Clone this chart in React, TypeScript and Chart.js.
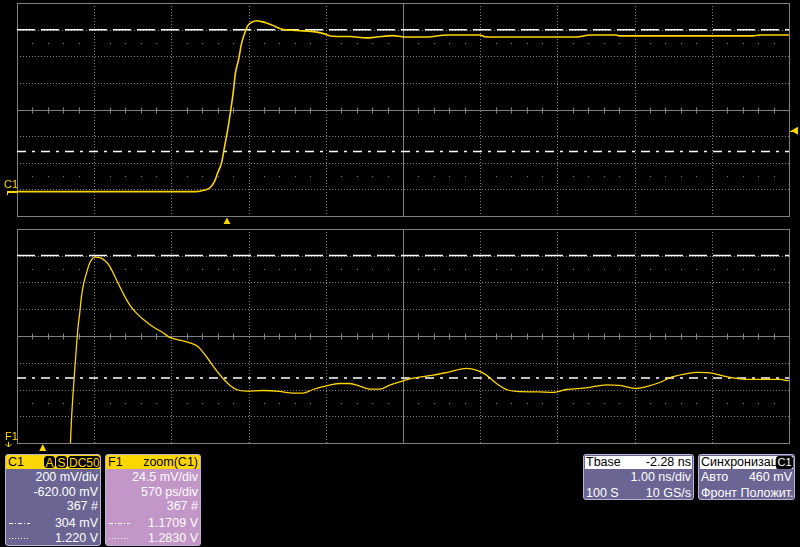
import React, { useEffect, useRef } from "react";
import { Chart, registerables } from "chart.js";

Chart.register(...registerables);

// ---- Data (time in ns, voltage in V) ----
const topTimeNs = [-2.72, -0.4, -0.29, -0.22, -0.16, -0.12, -0.07, -0.03, 0.01, 0.05, 0.08, 0.11, 0.15, 0.19, 0.23, 0.27, 0.32, 0.38, 0.45, 0.51, 0.6, 0.7, 0.9, 1.09, 1.24, 1.37, 1.59, 1.81, 1.94, 2.15, 2.3, 2.58, 2.86, 3.27, 3.36, 4.53, 4.7, 5.04, 5.09, 6.81, 6.9, 7.28];
const topVolts = [0.003, 0.003, 0.015, 0.032, 0.082, 0.145, 0.22, 0.345, 0.47, 0.62, 0.745, 0.895, 0.995, 1.12, 1.195, 1.25, 1.275, 1.287, 1.28, 1.27, 1.25, 1.225, 1.213, 1.207, 1.192, 1.17, 1.168, 1.158, 1.165, 1.175, 1.165, 1.165, 1.18, 1.18, 1.165, 1.165, 1.18, 1.18, 1.173, 1.173, 1.18, 1.18];

const zoomTimeNs = [0.196, 0.212, 0.224, 0.236, 0.249, 0.261, 0.273, 0.286, 0.303, 0.323, 0.347, 0.384, 0.421, 0.458, 0.495, 0.544, 0.593, 0.642, 0.692, 0.741, 0.814, 0.888, 0.937, 1.011, 1.085, 1.147, 1.209, 1.27, 1.331, 1.381, 1.43, 1.504, 1.626, 1.75, 1.824, 1.922, 1.996, 2.119, 2.193, 2.267, 2.34, 2.414, 2.488, 2.562, 2.636, 2.734, 2.882, 3.005, 3.128, 3.202, 3.276, 3.35, 3.423, 3.497, 3.657, 3.768, 3.866, 4.014, 4.162, 4.26, 4.383, 4.457, 4.555, 4.629, 4.727, 4.826, 4.924, 5.023, 5.122, 5.196, 5.442, 5.508];
const zoomVolts = [1.0862, 1.1321, 1.1566, 1.1781, 1.1995, 1.2178, 1.2302, 1.2454, 1.2577, 1.2669, 1.2761, 1.2816, 1.281, 1.2785, 1.273, 1.2608, 1.2485, 1.2378, 1.2302, 1.2246, 1.2178, 1.2123, 1.2081, 1.2056, 1.2031, 1.1995, 1.1903, 1.1796, 1.1704, 1.1643, 1.1603, 1.1588, 1.1594, 1.1585, 1.1572, 1.1569, 1.1603, 1.1643, 1.1658, 1.1658, 1.1634, 1.1606, 1.1606, 1.1643, 1.1673, 1.1707, 1.1735, 1.1765, 1.1796, 1.1781, 1.1735, 1.1658, 1.1603, 1.1585, 1.1581, 1.1576, 1.1603, 1.1618, 1.1646, 1.164, 1.1612, 1.163, 1.1667, 1.171, 1.1741, 1.1759, 1.1756, 1.1728, 1.1704, 1.1695, 1.1695, 1.1682];

// axis ranges
const topTimeRange = [-2.72, 7.28]; // 1.00 ns/div, 10 div
const topVoltRange = [-0.18, 1.42]; // 200 mV/div, 8 div, centre 0.62 V
const zoomTimeRange = [-0.19, 5.51]; // 570 ps/div
const zoomVoltRange = [1.1113, 1.3073]; // 24.5 mV/div

// cursors [upper, lower]
const topCursors = [1.22, 0.304];
const zoomCursors = [1.283, 1.1709];
const triggerLevelV = 0.46;
const triggerTimeNs = 0;
const channelZeroV = 0;

// info panel texts
const c1Rows = ["200 mV/div", "-620.00 mV", "367 #", "304 mV", "1.220 V"];
const f1Rows = ["24.5 mV/div", "570 ps/div", "367 #", "1.1709 V", "1.2830 V"];

const TRACE = "#ffd500";
const GRID = "#808080";
const YELLOW = "#ffd700";

type Opts = { cursors: number[]; kind: "top" | "zoom" };

function makeScopePlugin(o: Opts) {
  return {
    id: "scope-" + o.kind,
    beforeDatasetsDraw(chart: any) {
      const { ctx, chartArea: a, scales } = chart;
      const xs = scales.x, ys = scales.y;
      const xmin = xs.min, xmax = xs.max, ymin = ys.min, ymax = ys.max;
      const xDiv = (xmax - xmin) / 10, yDiv = (ymax - ymin) / 8;
      const px = (v: number) => Math.round(xs.getPixelForValue(v)) + 0.5;
      const py = (v: number) => Math.round(ys.getPixelForValue(v)) + 0.5;
      ctx.save();
      // dotted grid
      ctx.strokeStyle = GRID;
      ctx.lineWidth = 1;
      ctx.setLineDash([1, 2]);
      for (let i = 1; i < 10; i++) {
        if (i === 5) continue;
        const x = px(xmin + i * xDiv);
        ctx.beginPath(); ctx.moveTo(x, a.top); ctx.lineTo(x, a.bottom); ctx.stroke();
      }
      for (let j = 1; j < 8; j++) {
        if (j === 4) continue;
        const y = py(ymin + j * yDiv);
        ctx.beginPath(); ctx.moveTo(a.left, y); ctx.lineTo(a.right, y); ctx.stroke();
      }
      ctx.setLineDash([]);
      // centre lines
      const xc = px(xmin + 5 * xDiv), yc = py(ymin + 4 * yDiv);
      ctx.beginPath(); ctx.moveTo(xc, a.top); ctx.lineTo(xc, a.bottom); ctx.stroke();
      ctx.beginPath(); ctx.moveTo(a.left, yc); ctx.lineTo(a.right, yc); ctx.stroke();
      // minor ticks on horizontal centre line
      for (let k = 1; k < 50; k++) {
        if (k % 5 === 0) continue;
        const x = px(xmin + (k * xDiv) / 5);
        ctx.beginPath(); ctx.moveTo(x, yc - 3); ctx.lineTo(x, yc + 3); ctx.stroke();
      }
      // sparse dot rows
      ctx.fillStyle = GRID;
      for (const r of [1.5, 6.5]) {
        const y = Math.round(ys.getPixelForValue(ymin + r * yDiv));
        for (let k = 1; k < 50; k++) {
          if (k % 5 === 0) continue;
          const x = Math.round(xs.getPixelForValue(xmin + (k * xDiv) / 5));
          ctx.fillRect(x, y, 1, 1);
        }
      }
      // border
      ctx.strokeRect(Math.round(a.left) + 0.5, Math.round(a.top) + 0.5, Math.round(a.right - a.left), Math.round(a.bottom - a.top));
      // cursors
      ctx.strokeStyle = "#ffffff";
      ctx.lineWidth = 1.5;
      ctx.setLineDash([18, 6]);
      let y = ys.getPixelForValue(o.cursors[0]);
      ctx.beginPath(); ctx.moveTo(a.left, y); ctx.lineTo(a.right, y); ctx.stroke();
      ctx.setLineDash([9, 6, 3, 6]);
      y = ys.getPixelForValue(o.cursors[1]);
      ctx.beginPath(); ctx.moveTo(a.left, y); ctx.lineTo(a.right, y); ctx.stroke();
      ctx.restore();
    },
    afterDraw(chart: any) {
      const { ctx, chartArea: a, scales } = chart;
      const xs = scales.x, ys = scales.y;
      ctx.save();
      ctx.fillStyle = YELLOW;
      ctx.strokeStyle = YELLOW;
      ctx.font = "11px 'Liberation Sans', Arial, sans-serif";
      ctx.textBaseline = "alphabetic";
      const xt = xs.getPixelForValue(triggerTimeNs);
      if (o.kind === "top") {
        const y0 = ys.getPixelForValue(channelZeroV);
        ctx.fillText("C1", 4, y0 - 4);
        ctx.fillRect(7, Math.round(y0) - 1, a.left - 7, 2);
        ctx.fillRect(7, Math.round(y0) - 1, 1, 4);
        // trigger time marker
        ctx.beginPath();
        ctx.moveTo(xt, a.bottom + 1.5);
        ctx.lineTo(xt + 3.5, a.bottom + 8);
        ctx.lineTo(xt - 3.5, a.bottom + 8);
        ctx.closePath(); ctx.fill();
        // trigger level marker
        const yl = ys.getPixelForValue(triggerLevelV);
        ctx.beginPath();
        ctx.moveTo(a.right + 2, yl);
        ctx.lineTo(a.right + 9, yl - 4);
        ctx.lineTo(a.right + 9, yl + 4);
        ctx.closePath(); ctx.fill();
        ctx.fillRect(a.right + 1, Math.round(yl), 3, 1);
      } else {
        ctx.fillText("F1", 5, a.bottom - 3);
        ctx.lineWidth = 1;
        ctx.beginPath();
        ctx.moveTo(8.5, a.bottom - 1); ctx.lineTo(8.5, a.bottom + 4);
        ctx.moveTo(5.5, a.bottom + 1); ctx.lineTo(8.5, a.bottom + 4); ctx.lineTo(11.5, a.bottom + 1);
        ctx.stroke();
        ctx.beginPath();
        ctx.moveTo(xt, a.bottom + 1);
        ctx.lineTo(xt + 3.5, a.bottom + 8);
        ctx.lineTo(xt - 3.5, a.bottom + 8);
        ctx.closePath(); ctx.fill();
      }
      ctx.restore();
    },
  };
}

function ScopeChart(props: {
  times: number[]; volts: number[]; xr: number[]; yr: number[]; cursors: number[];
  kind: "top" | "zoom"; top: number; height: number; pad: { left: number; right: number; top: number; bottom: number }; width: number;
}) {
  const ref = useRef<HTMLCanvasElement | null>(null);
  useEffect(() => {
    if (!ref.current) return;
    const chart = new Chart(ref.current, {
      type: "line",
      data: {
        datasets: [
          {
            data: props.times.map((t, i) => ({ x: t, y: props.volts[i] })),
            borderColor: TRACE,
            borderWidth: props.kind === "top" ? 1.6 : 1.3,
            pointRadius: 0,
            cubicInterpolationMode: "monotone",
            fill: false,
          } as any,
        ],
      },
      options: {
        responsive: false,
        animation: false,
        events: [],
        layout: { padding: props.pad },
        plugins: { legend: { display: false }, tooltip: { enabled: false } },
        scales: {
          x: { type: "linear", min: props.xr[0], max: props.xr[1], display: false },
          y: { type: "linear", min: props.yr[0], max: props.yr[1], display: false },
        },
      },
      plugins: [makeScopePlugin({ cursors: props.cursors, kind: props.kind }) as any],
    });
    return () => chart.destroy();
  }, []);
  return (
    <canvas
      ref={ref}
      width={props.width}
      height={props.height}
      style={{ position: "absolute", left: 0, top: props.top, width: props.width, height: props.height, display: "block" }}
    />
  );
}

const FONT = "'Liberation Sans', Arial, sans-serif";

function Badge(p: { text: string; left: number; width: number; color: string }) {
  return (
    <div style={{ position: "absolute", left: p.left, top: 1, width: p.width, height: 12, background: "#000", color: p.color, borderRadius: 3, fontSize: 12, lineHeight: "12px", textAlign: "center", border: "1px solid #000", boxSizing: "border-box" }}>{p.text}</div>
  );
}

function Row(p: { top: number; left?: string; right?: string; sym?: "dashdot" | "dot"; color?: string }) {
  return (
    <div style={{ position: "absolute", left: 0, right: 0, top: p.top, height: 14, lineHeight: "14px", color: p.color || "#fff" }}>
      {p.sym && (
        <div style={{ position: "absolute", left: 3, top: 7, width: 21, height: 1, background: p.sym === "dot" ? "repeating-linear-gradient(90deg,#fff 0 1px,transparent 1px 3px)" : "repeating-linear-gradient(90deg,#fff 0 4px,transparent 4px 6px,#fff 6px 7px,transparent 7px 9px)" }} />
      )}
      {p.left && <span style={{ position: "absolute", left: 2 }}>{p.left}</span>}
      {p.right && <span style={{ position: "absolute", right: 2 }}>{p.right}</span>}
    </div>
  );
}

function ChannelBox(p: { left: number; bg: string; title: string; titleRight?: string; rows: string[]; badges?: boolean }) {
  return (
    <div style={{ position: "absolute", left: p.left, top: 454, width: 96, height: 92, background: p.bg, border: "1px solid #b9b4d2", borderRadius: 3, boxSizing: "border-box", overflow: "hidden", fontFamily: FONT, fontSize: 12.5 }}>
      <div style={{ position: "absolute", left: 0, right: 0, top: 0, height: 14, background: YELLOW, color: "#000", lineHeight: "14px" }}>
        <span style={{ position: "absolute", left: 2 }}>{p.title}</span>
        {p.titleRight && <span style={{ position: "absolute", right: 2 }}>{p.titleRight}</span>}
        {p.badges && (
          <>
            <Badge text="A" left={38} width={11} color={YELLOW} />
            <Badge text="S" left={50} width={11} color={YELLOW} />
            <Badge text="DC50" left={62} width={32} color={YELLOW} />
          </>
        )}
      </div>
      <Row top={15} right={p.rows[0]} />
      <Row top={30} right={p.rows[1]} />
      <Row top={44} right={p.rows[2]} />
      <Row top={61} right={p.rows[3]} sym="dashdot" />
      <Row top={76} right={p.rows[4]} sym="dot" />
    </div>
  );
}

function SmallBox(p: { left: number; width: number; children: any }) {
  return (
    <div style={{ position: "absolute", left: p.left, top: 454, width: p.width, height: 46, background: "#6b6594", border: "1px solid #b9b4d2", borderRadius: 3, boxSizing: "border-box", overflow: "hidden", fontFamily: FONT, fontSize: 12.5, color: "#fff" }}>
      {p.children}
    </div>
  );
}

export default function App() {
  return (
    <div style={{ position: "fixed", left: 0, top: 0, width: 800, height: 547, background: "#000", overflow: "hidden" }}>
      <ScopeChart times={topTimeNs} volts={topVolts} xr={topTimeRange} yr={topVoltRange} cursors={topCursors} kind="top" top={0} height={226} width={800} pad={{ left: 17, right: 11, top: 3, bottom: 10 }} />
      <ScopeChart times={zoomTimeNs} volts={zoomVolts} xr={zoomTimeRange} yr={zoomVoltRange} cursors={zoomCursors} kind="zoom" top={220} height={232} width={800} pad={{ left: 17, right: 11, top: 9, bottom: 9 }} />
      <ChannelBox left={5} bg="#6b6594" title="C1" rows={c1Rows} badges />
      <ChannelBox left={105} bg="#c396c8" title="F1" titleRight="zoom(C1)" rows={f1Rows} />
      <SmallBox left={583} width={111}>
        <div style={{ position: "absolute", left: 1, right: 1, top: 1, height: 13, background: "#fff", color: "#000", lineHeight: "13px" }}>
          <span style={{ position: "absolute", left: 1 }}>Tbase</span>
          <span style={{ position: "absolute", right: 1 }}>-2.28 ns</span>
        </div>
        <Row top={15} right="1.00 ns/div" />
        <Row top={31} left="100 S" right="10 GS/s" />
      </SmallBox>
      <SmallBox left={698} width={97}>
        <div style={{ position: "absolute", left: 1, right: 1, top: 1, height: 13, background: "#fff", color: "#000", lineHeight: "13px" }}>
          <span style={{ position: "absolute", left: 1 }}>Синхронизац</span>
          <div style={{ position: "absolute", right: 0, top: 0, width: 17, height: 13, background: "#000", color: "#fff", borderRadius: 3, fontSize: 11, lineHeight: "13px", textAlign: "center" }}>C1</div>
        </div>
        <Row top={15} left="Авто" right="460 mV" />
        <Row top={31} left="Фронт Положит." />
      </SmallBox>
    </div>
  );
}
